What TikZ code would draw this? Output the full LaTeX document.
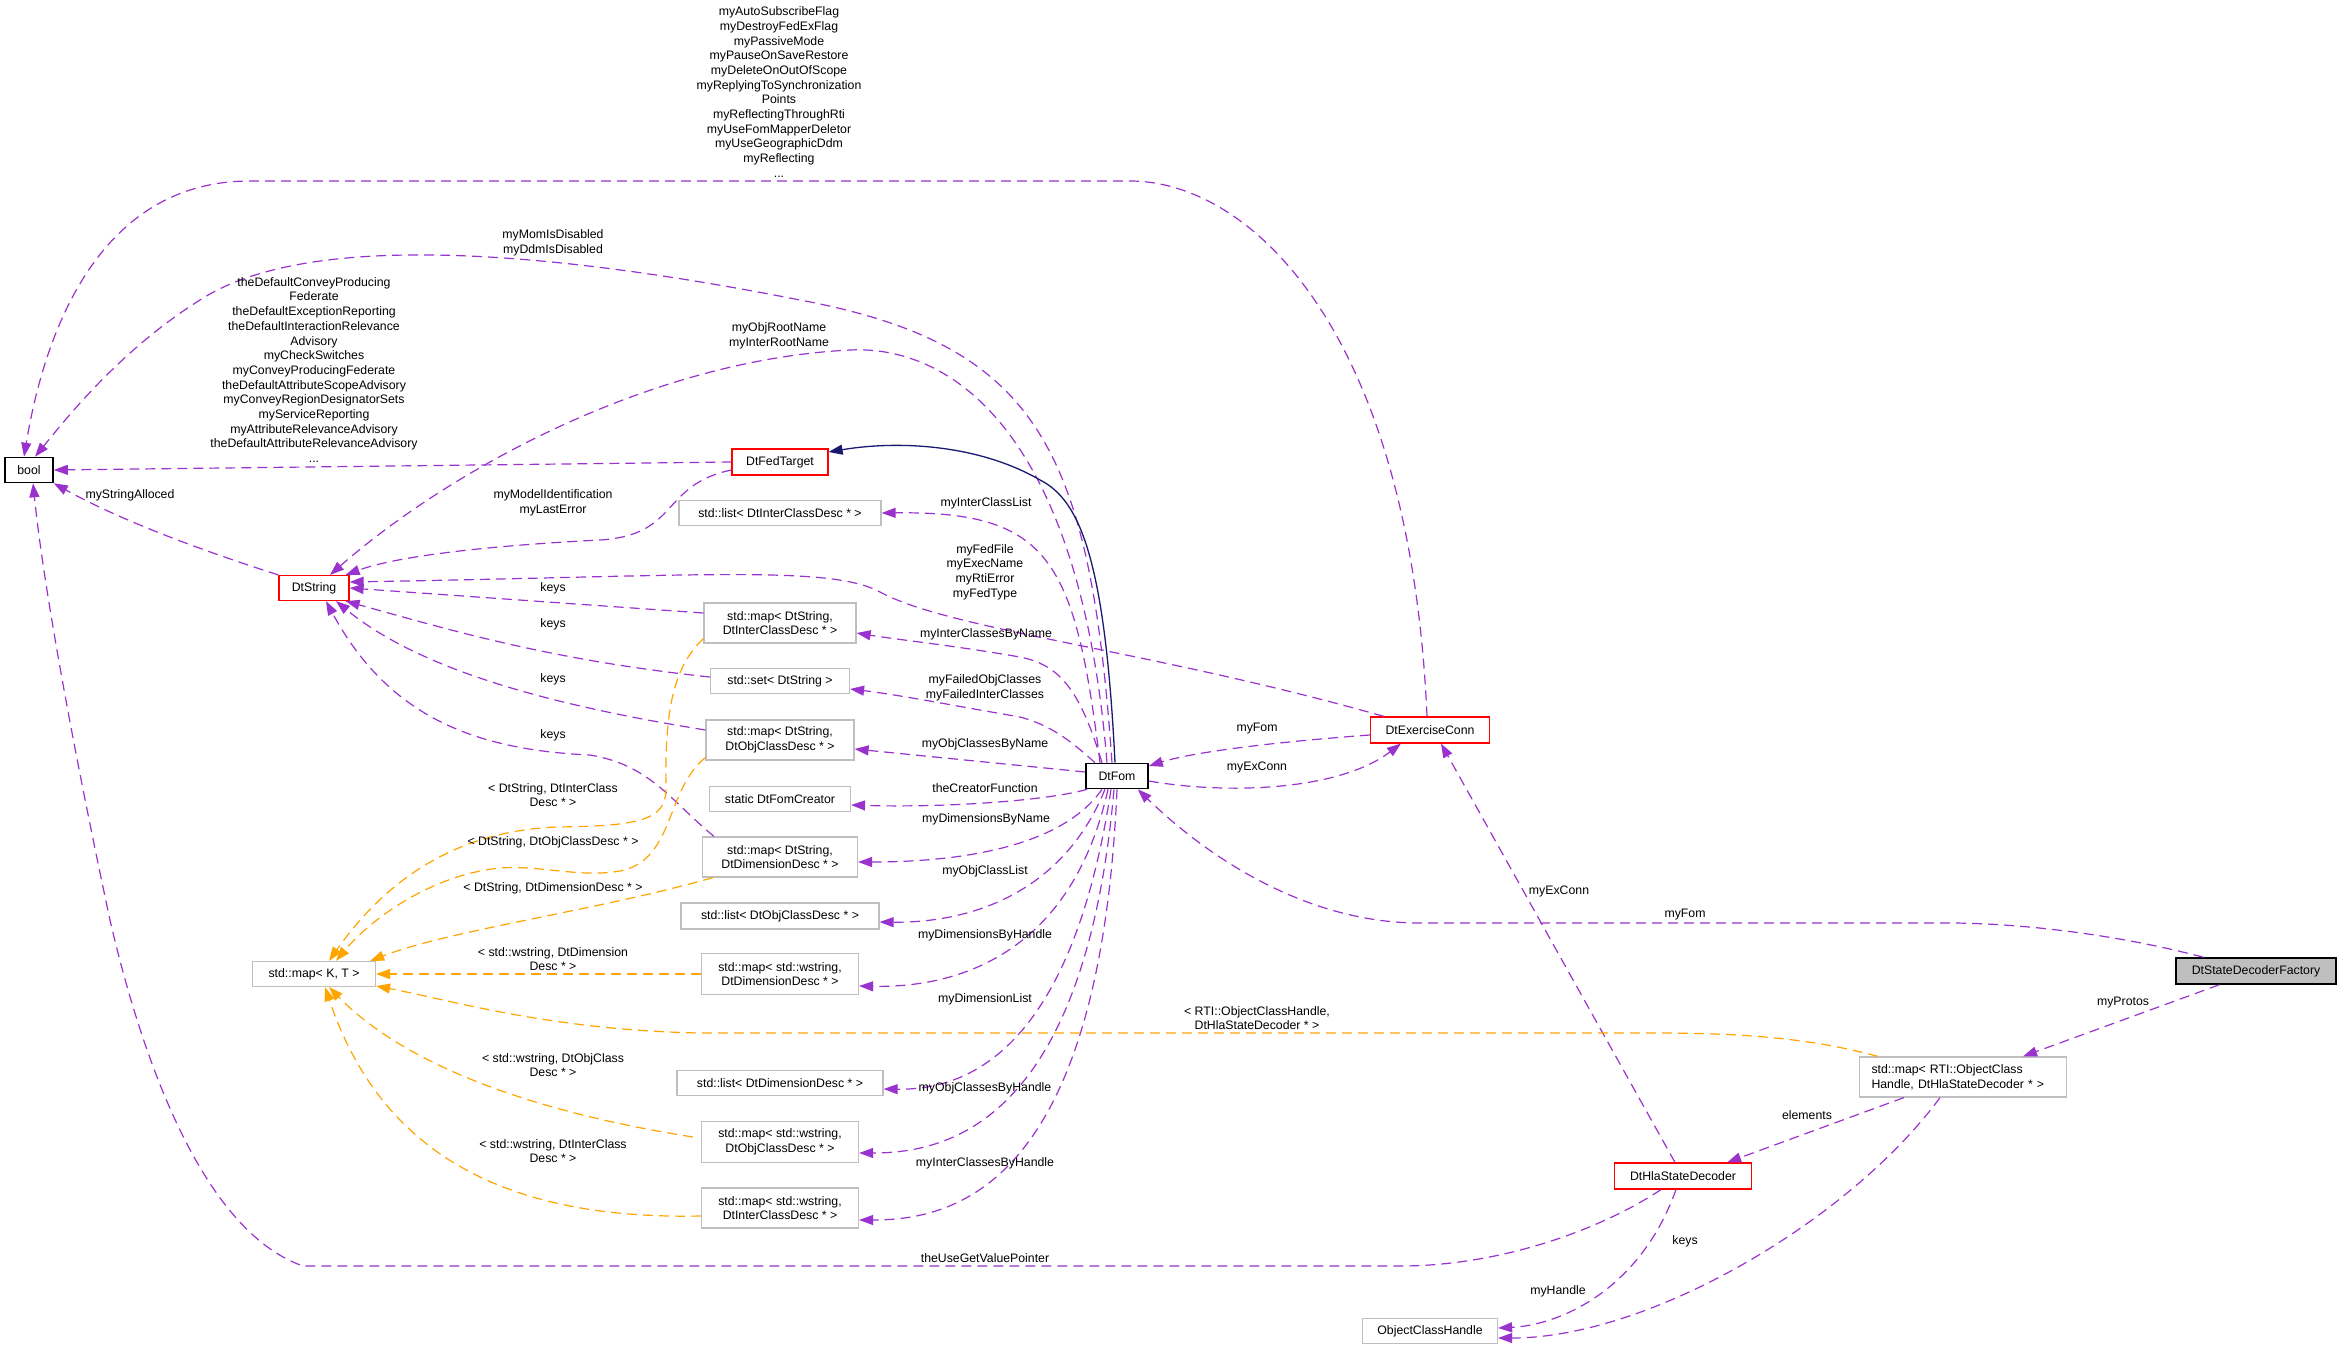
\documentclass[tikz,border=0pt]{standalone}
\usepackage{fontspec}
\setmainfont{Liberation Sans}
\usetikzlibrary{arrows.meta,calc}
\definecolor{pur}{HTML}{9A32CD}
\definecolor{org}{HTML}{FFA500}
\definecolor{nav}{HTML}{191970}
\definecolor{gry}{HTML}{BFBFBF}
\begin{document}
\begin{tikzpicture}[x=1pt,y=-1pt,
  every node/.style={font=\fontsize{12.3}{14.7}\selectfont},
  box/.style={draw,rectangle,inner sep=0pt,align=center,line width=1.2pt},
  rbox/.style={box,draw=red},
  gbox/.style={box,draw=gry},
  kbox/.style={box,draw=black,line width=1.6pt},
  lbl/.style={align=center,inner sep=0pt},
  tip/.style={-{Triangle[length=14pt,width=10pt]}},
  pe/.style={tip,draw=pur,line width=1.2pt,dash pattern=on 10pt off 6pt},
  oe/.style={tip,draw=org,line width=1.2pt,dash pattern=on 10pt off 6pt},
  ne/.style={tip,draw=nav,line width=1.3pt}]
\useasboundingbox (0,0) rectangle (2341,1351);
% nodes
\node[kbox,minimum width=48,minimum height=25] (bool) at (29,470) {bool};
\node[rbox,minimum width=70,minimum height=25] (dtstring) at (314,588) {DtString};
\node[rbox,minimum width=96,minimum height=26] (fedtarget) at (780,462) {DtFedTarget};
\node[gbox,minimum width=202,minimum height=25] (listinter) at (780,513) {std::list< DtInterClassDesc * >};
\node[gbox,minimum width=152,minimum height=40] (mapinter) at (780,623) {std::map< DtString,\\DtInterClassDesc * >};
\node[gbox,minimum width=139,minimum height=25] (setstr) at (780,681) {std::set< DtString >};
\node[gbox,minimum width=148,minimum height=40] (mapobj) at (780,740) {std::map< DtString,\\DtObjClassDesc * >};
\node[gbox,minimum width=141,minimum height=25] (fomcreator) at (780,799) {static DtFomCreator};
\node[gbox,minimum width=155,minimum height=40] (mapdim) at (780,857) {std::map< DtString,\\DtDimensionDesc * >};
\node[gbox,minimum width=198,minimum height=26] (listobj) at (780,916) {std::list< DtObjClassDesc * >};
\node[gbox,minimum width=157,minimum height=41] (mapwdim) at (780,974) {std::map< std::wstring,\\DtDimensionDesc * >};
\node[gbox,minimum width=206,minimum height=25] (listdim) at (780,1083) {std::list< DtDimensionDesc * >};
\node[gbox,minimum width=157,minimum height=41] (mapwobj) at (780,1142) {std::map< std::wstring,\\DtObjClassDesc * >};
\node[gbox,minimum width=157,minimum height=40] (mapwinter) at (780,1208) {std::map< std::wstring,\\DtInterClassDesc * >};
\node[gbox,minimum width=123,minimum height=25] (mapkt) at (314,974) {std::map< K, T >};
\node[kbox,minimum width=62,minimum height=25] (dtfom) at (1117,776) {DtFom};
\node[rbox,minimum width=119,minimum height=26] (exconn) at (1430,730) {DtExerciseConn};
\node[rbox,minimum width=137,minimum height=26] (hla) at (1683,1176) {DtHlaStateDecoder};
\node[gbox,minimum width=135,minimum height=25] (och) at (1430,1331) {ObjectClassHandle};
\node[gbox,minimum width=207,minimum height=40,align=left,text width=183] (maprti) at (1963,1077) {std::map< RTI::ObjectClass\\Handle, DtHlaStateDecoder * >};
\node[kbox,fill=gry,minimum width=160,minimum height=26] (factory) at (2256,971) {DtStateDecoderFactory};

% edges to bool
\draw[pe] ($(exconn.north)+(-3,0)$) .. controls (1410,330) and (1250,181) .. (1130,181) -- (250,181) .. controls (100,181) and (45,330) .. ($(bool.north)+(-5,0)$);
\node[lbl] (l1) at (779,92) {myAutoSubscribeFlag\\myDestroyFedExFlag\\myPassiveMode\\myPauseOnSaveRestore\\myDeleteOnOutOfScope\\myReplyingToSynchronization\\Points\\myReflectingThroughRti\\myUseFomMapperDeletor\\myUseGeographicDdm\\myReflecting\\...};
\draw[pe] ($(dtfom.north)+(-5,0)$) .. controls (1090,450) and (1040,345) .. (800,300) .. controls (520,245) and (300,235) .. (200,300) .. controls (120,350) and (65,420) .. ($(bool.north)+(6,0)$);
\node[lbl] (l2) at (553,243) {myMomIsDisabled\\myDdmIsDisabled};
\draw[pe] (fedtarget.west) -- (bool.east);
\node[lbl] (l3) at (314,370) {theDefaultConveyProducing\\Federate\\theDefaultExceptionReporting\\theDefaultInteractionRelevance\\Advisory\\myCheckSwitches\\myConveyProducingFederate\\theDefaultAttributeScopeAdvisory\\myConveyRegionDesignatorSets\\myServiceReporting\\myAttributeRelevanceAdvisory\\theDefaultAttributeRelevanceAdvisory\\...};
\draw[pe] (dtstring.north west) .. controls (200,550) and (120,520) .. (bool.south east);
\node[lbl] (l4) at (130,495) {myStringAlloced};
\draw[pe] ($(hla.south)+(-22,0)$) .. controls (1600,1230) and (1500,1266) .. (1400,1266) -- (303,1266) .. controls (200,1230) and (140,1050) .. (110,920) .. controls (80,780) and (45,600) .. ($(bool.south)+(4,0)$);
\node[lbl] (l5) at (985,1258) {theUseGetValuePointer};

% edges to DtString
\draw[pe] ($(dtfom.north)+(-10,0)$) .. controls (1080,430) and (950,345) .. (850,350) .. controls (650,360) and (450,470) .. ($(dtstring.north)+(16,0)$);
\node[lbl] (l6) at (779,336) {myObjRootName\\myInterRootName};
\draw[pe] ($(fedtarget.west)+(0,8)$) .. controls (660,485) and (680,535) .. (600,540) .. controls (500,545) and (400,555) .. ($(dtstring.north east)+(-4,0)$);
\node[lbl] (l7) at (553,503) {myModelIdentification\\myLastError};
\draw[pe] ($(exconn.north west)+(14,0)$) .. controls (1150,650) and (950,630) .. (880,592) .. controls (830,565) and (700,576) .. ($(dtstring.east)+(0,-6)$);
\node[lbl] (l8) at (985,572) {myFedFile\\myExecName\\myRtiError\\myFedType};
\draw[pe] ($(mapinter.west)+(0,-10)$) -- ($(dtstring.east)+(0,0)$);
\node[lbl] (l9) at (553,588) {keys};
\draw[pe] ($(setstr.west)+(0,-4)$) .. controls (550,660) and (450,630) .. ($(dtstring.south east)+(-4,0)$);
\node[lbl] (l10) at (553,624) {keys};
\draw[pe] ($(mapobj.west)+(0,-10)$) .. controls (550,705) and (420,670) .. ($(dtstring.south)+(22,0)$);
\node[lbl] (l11) at (553,679) {keys};
\draw[pe] ($(mapdim.north west)+(12,0)$) .. controls (670,800) and (650,765) .. (590,755) .. controls (480,750) and (390,720) .. ($(dtstring.south)+(12,0)$);
\node[lbl] (l12) at (553,735) {keys};

% inheritance
\draw[ne] ($(dtfom.north)+(-2,0)$) .. controls (1105,560) and (1080,500) .. (1040,480) .. controls (980,445) and (900,440) .. ($(fedtarget.east)+(0,-10)$);

% DtFom edges to left column
\draw[pe] ($(dtfom.north)+(-17,0)$) .. controls (1075,560) and (1050,511) .. (listinter.east);
\node[lbl] (l13) at (986,503) {myInterClassList};
\draw[pe] ($(dtfom.north)+(-15,0)$) .. controls (1080,690) and (1060,665) .. (1020,657) .. controls (950,645) and (900,640) .. ($(mapinter.east)+(0,10)$);
\node[lbl] (l14) at (986,634) {myInterClassesByName};
\draw[pe] ($(dtfom.north)+(-22,0)$) .. controls (1070,740) and (1050,725) .. (1020,717) .. controls (950,705) and (900,695) .. ($(setstr.east)+(0,8)$);
\node[lbl] (l15) at (985,688) {myFailedObjClasses\\myFailedInterClasses};
\draw[pe] ($(dtfom.west)+(0,-4)$) -- ($(mapobj.east)+(0,9)$);
\node[lbl] (l16) at (985,744) {myObjClassesByName};
\draw[pe] ($(dtfom.south west)+(2,0)$) .. controls (1050,800) and (950,808) .. ($(fomcreator.east)+(0,6)$);
\node[lbl] (l17) at (985,788) {theCreatorFunction};
\draw[pe] ($(dtfom.south)+(-15,0)$) .. controls (1060,850) and (950,862) .. ($(mapdim.east)+(0,5)$);
\node[lbl] (l18) at (986,819) {myDimensionsByName};
\draw[pe] ($(dtfom.south)+(-12,0)$) .. controls (1060,900) and (960,923) .. ($(listobj.east)+(0,6)$);
\node[lbl] (l19) at (985,871) {myObjClassList};
\draw[pe] ($(dtfom.south)+(-9,0)$) .. controls (1070,960) and (950,988) .. ($(mapwdim.east)+(0,12)$);
\node[lbl] (l20) at (985,935) {myDimensionsByHandle};
\draw[pe] ($(dtfom.south)+(-6,0)$) .. controls (1070,1060) and (960,1090) .. ($(listdim.east)+(0,6)$);
\node[lbl] (l21) at (985,999) {myDimensionList};
\draw[pe] ($(dtfom.south)+(-3,0)$) .. controls (1085,1120) and (950,1153) .. ($(mapwobj.east)+(0,11)$);
\node[lbl] (l22) at (985,1088) {myObjClassesByHandle};
\draw[pe] ($(dtfom.south)+(0,0)$) .. controls (1100,1180) and (960,1220) .. ($(mapwinter.east)+(0,12)$);
\node[lbl] (l23) at (985,1163) {myInterClassesByHandle};

% right side
\draw[pe] ($(exconn.west)+(0,5)$) .. controls (1300,740) and (1200,750) .. ($(dtfom.east)+(0,-10)$);
\node[lbl] (l24) at (1257,729) {myFom};
\draw[pe] ($(dtfom.east)+(0,5)$) .. controls (1230,795) and (1340,790) .. ($(exconn.south west)+(31,0)$);
\node[lbl] (l25) at (1257,767) {myExConn};
\draw[pe] ($(factory.north west)+(28,0)$) .. controls (2100,930) and (2000,923) .. (1950,923) -- (1420,923) .. controls (1300,923) and (1200,850) .. ($(dtfom.south east)+(-11,0)$);
\node[lbl] (l26) at (1685,915) {myFom};
\draw[pe] ($(hla.north)+(-8,0)$) -- ($(exconn.south)+(11,0)$);
\node[lbl] (l27) at (1559,891) {myExConn};
\draw[pe] ($(factory.south west)+(44,0)$) -- ($(maprti.north)+(60,0)$);
\node[lbl] (l28) at (2123,1003) {myProtos};
\draw[pe] ($(maprti.south west)+(45,0)$) -- ($(hla.north east)+(-25,0)$);
\node[lbl] (l29) at (1807,1115) {elements};
\draw[pe] ($(maprti.south)+(-23,0)$) .. controls (1850,1220) and (1650,1338) .. ($(och.east)+(0,7)$);
\node[lbl] (l30) at (1685,1241) {keys};
\draw[pe] ($(hla.south)+(-7,0)$) .. controls (1640,1290) and (1560,1325) .. ($(och.east)+(0,-3)$);
\node[lbl] (l31) at (1558,1291) {myHandle};

% orange template edges
\draw[oe] ($(mapinter.south west)+(0,-5)$) .. controls (670,670) and (665,720) .. (666,790) .. controls (665,820) and (640,826) .. (557,827) .. controls (480,830) and (400,860) .. ($(mapkt.north)+(15,0)$);
\node[lbl] (l32) at (553,795) {< DtString, DtInterClass\\Desc * >};
\draw[oe] ($(mapobj.south west)+(0,-3)$) .. controls (665,790) and (675,860) .. (620,871) .. controls (580,878) and (540,865) .. (500,868) .. controls (430,875) and (370,920) .. ($(mapkt.north)+(22,0)$);
\node[lbl] (l33) at (553,842) {< DtString, DtObjClassDesc * >};
\draw[oe] ($(mapdim.south west)+(11,0)$) .. controls (600,910) and (450,930) .. ($(mapkt.north east)+(-6,0)$);
\node[lbl] (l34) at (553,888) {< DtString, DtDimensionDesc * >};
\draw[oe] (mapwdim.west) -- (mapkt.east);
\node[lbl] (l35) at (553,959) {< std::wstring, DtDimension\\Desc * >};
\draw[oe] ($(maprti.north west)+(19,0)$) .. controls (1800,1035) and (1720,1033) .. (1650,1033) -- (700,1033) .. controls (550,1030) and (450,1000) .. ($(mapkt.east)+(0,12)$);
\node[lbl] (l36) at (1257,1018) {< RTI::ObjectClassHandle,\\DtHlaStateDecoder * >};
\draw[oe] ($(mapwobj.west)+(-8,-5)$) .. controls (520,1110) and (400,1060) .. ($(mapkt.south)+(15,0)$);
\node[lbl] (l37) at (553,1065) {< std::wstring, DtObjClass\\Desc * >};
\draw[oe] ($(mapwinter.west)+(0,8)$) .. controls (500,1220) and (380,1150) .. ($(mapkt.south)+(11,0)$);
\node[lbl] (l38) at (553,1151) {< std::wstring, DtInterClass\\Desc * >};
\end{tikzpicture}
\end{document}
